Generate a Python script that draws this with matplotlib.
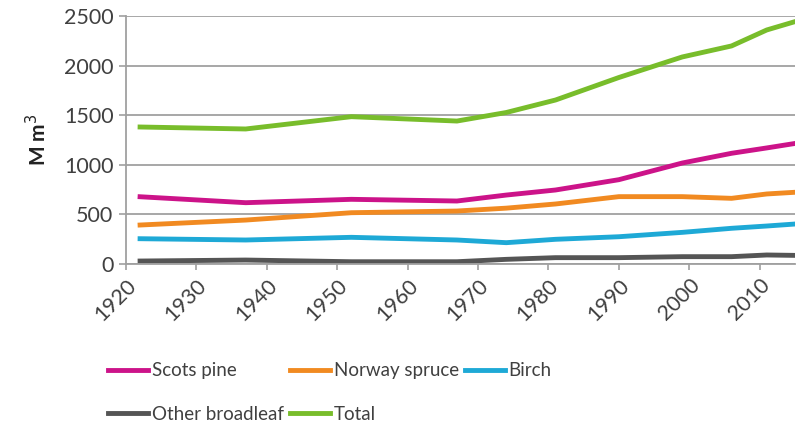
import matplotlib
matplotlib.use('Agg')
from matplotlib import pyplot as plt

# inventory years (mid-point of each national forest inventory)
years = [1922, 1937, 1952, 1967, 1974, 1981, 1990, 1999, 2006, 2011, 2015]

scots_pine = [678, 618, 652, 635, 695, 746, 850, 1018, 1116, 1170, 1215]
norway_spruce = [393, 443, 517, 534, 563, 605, 679, 679, 662, 706, 723]
birch = [255, 242, 269, 242, 215, 249, 275, 319, 360, 383, 403]
other_broadleaf = [30, 40, 23, 23, 47, 64, 64, 74, 74, 91, 87]
total = [1381, 1361, 1485, 1441, 1527, 1653, 1880, 2087, 2198, 2359, 2443]

x_ticks = list(range(1920, 2011, 10))
y_ticks = [0, 500, 1000, 1500, 2000, 2500]

GRID = '#a0a0a0'
TEXT = '#404040'
FONT = 'Lato'

def main():
    plt.rcParams['font.family'] = [FONT, 'DejaVu Sans']
    fig = plt.figure(figsize=(8.05, 4.25), dpi=100)
    ax = fig.add_axes([0.1565, 0.3788, 0.831, 0.5836])

    lw = 3.5
    l_pine, = ax.plot(years, scots_pine, color='#cc1389', lw=lw, label='Scots pine')
    l_spruce, = ax.plot(years, norway_spruce, color='#f18a21', lw=lw, label='Norway spruce')
    l_birch, = ax.plot(years, birch, color='#1ea9d6', lw=lw, label='Birch')
    l_other, = ax.plot(years, other_broadleaf, color='#555555', lw=lw, label='Other broadleaf')
    l_total, = ax.plot(years, total, color='#78bd2b', lw=lw, label='Total')

    ax.set_xlim(1920, 2015)
    ax.set_ylim(0, 2500)
    ax.set_xticks(x_ticks)
    ax.set_yticks(y_ticks)
    ax.set_xticklabels([str(y) for y in x_ticks], rotation=45, ha='right',
                       rotation_mode='anchor', fontsize=15.5, color=TEXT)
    ax.set_yticklabels([str(v) for v in y_ticks], fontsize=15.5, color=TEXT)
    ax.tick_params(axis='x', direction='out', length=4, width=1.2, color=GRID, pad=4)
    ax.tick_params(axis='y', direction='out', length=5, width=1.2, color=GRID, pad=4)

    ax.grid(axis='y', color=GRID, lw=1.3)
    ax.set_axisbelow(True)
    for side in ['top', 'right']:
        ax.spines[side].set_visible(False)
    for side in ['left', 'bottom']:
        ax.spines[side].set_color(GRID)
        ax.spines[side].set_linewidth(1.3)

    ax.set_ylabel('M m$^3$', fontsize=15, fontweight='bold', color='#222222', labelpad=10)

    # column-wise fill gives Scots pine / Other broadleaf in the first column
    handles = [l_pine, l_other, l_spruce, l_total, l_birch]
    fig.legend(handles, [h.get_label() for h in handles], ncol=3,
               loc='upper left', bbox_to_anchor=(0.125, 0.165), frameon=False,
               fontsize=13.5, handlelength=2.15, handletextpad=0.2,
               columnspacing=0.3, labelspacing=1.4, borderaxespad=0,
               labelcolor=TEXT)

    fig.savefig('out.png', dpi=100, facecolor='white')


if __name__ == "__main__":
    main()
